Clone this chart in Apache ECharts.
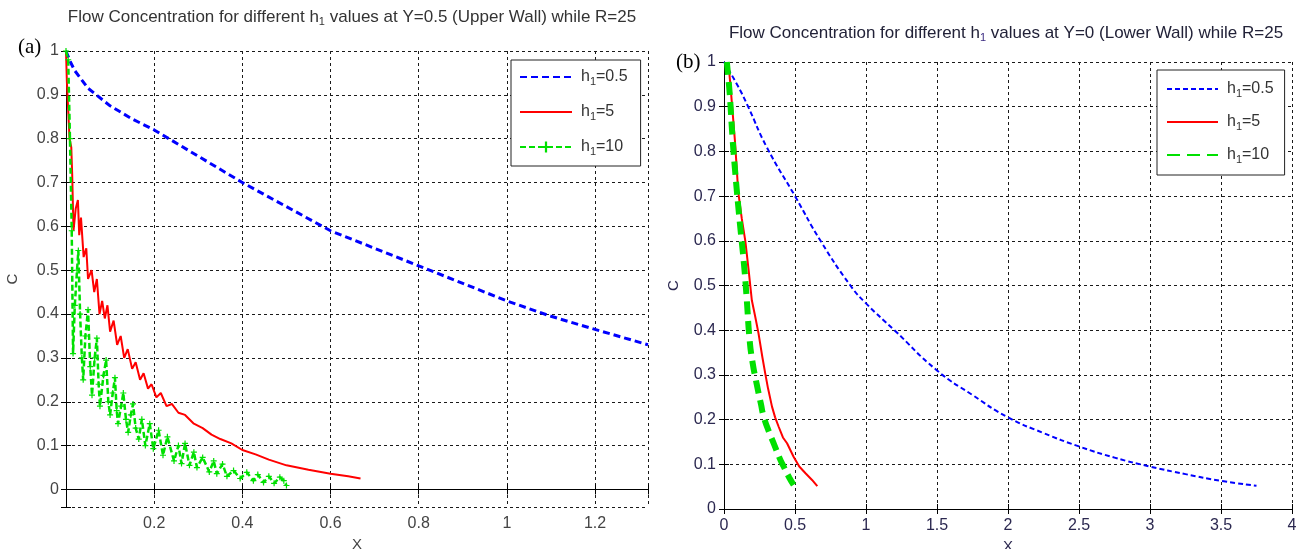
<!DOCTYPE html>
<html>
<head>
<meta charset="utf-8">
<script src="https://cdn.jsdelivr.net/npm/echarts@6/dist/echarts.min.js"></script>
<style>
  html, body { margin: 0; padding: 0; background: #fff; }
  #main { width: 1298px; height: 549px; }
</style>
</head>
<body>
<div id="main"></div>
<script>
// (a) Y=0.5 upper wall
const aX05 = [0, 0.01, 0.02, 0.05, 0.1, 0.15, 0.2, 0.3, 0.4, 0.5, 0.6, 0.7, 0.8, 0.9, 1.0, 1.1, 1.2, 1.32];
const aC05 = [1.0, 0.975, 0.955, 0.915, 0.875, 0.845, 0.82, 0.76, 0.70, 0.645, 0.59, 0.55, 0.51, 0.47, 0.43, 0.395, 0.365, 0.33];

const aX5 = [0, 0.002, 0.006, 0.008, 0.012, 0.014, 0.017, 0.022, 0.027, 0.03, 0.034, 0.04, 0.046, 0.05, 0.058, 0.064, 0.07, 0.076, 0.082, 0.088, 0.094, 0.1, 0.108, 0.116, 0.124, 0.132, 0.14, 0.15, 0.158, 0.168, 0.176, 0.186, 0.194, 0.205, 0.215, 0.228, 0.24, 0.255, 0.27, 0.29, 0.31, 0.33, 0.35, 0.375, 0.4, 0.43, 0.46, 0.5, 0.55, 0.6, 0.64, 0.668];
const aC5 = [1.0, 0.93, 0.93, 0.80, 0.78, 0.72, 0.59, 0.64, 0.66, 0.58, 0.62, 0.53, 0.55, 0.48, 0.50, 0.45, 0.48, 0.40, 0.43, 0.39, 0.42, 0.36, 0.385, 0.33, 0.35, 0.30, 0.32, 0.275, 0.29, 0.25, 0.265, 0.23, 0.24, 0.21, 0.22, 0.19, 0.195, 0.175, 0.17, 0.15, 0.14, 0.125, 0.115, 0.105, 0.09, 0.08, 0.068, 0.055, 0.045, 0.036, 0.03, 0.025];

const aX10 = [0, 0.005, 0.009, 0.013, 0.016, 0.02, 0.025, 0.028, 0.032, 0.036, 0.039, 0.044, 0.05, 0.055, 0.059, 0.065, 0.07, 0.074, 0.077, 0.085, 0.091, 0.096, 0.1, 0.106, 0.111, 0.115, 0.118, 0.125, 0.13, 0.136, 0.141, 0.147, 0.152, 0.158, 0.165, 0.172, 0.18, 0.19, 0.198, 0.21, 0.22, 0.23, 0.245, 0.255, 0.262, 0.27, 0.28, 0.29, 0.297, 0.31, 0.325, 0.335, 0.342, 0.355, 0.365, 0.38, 0.395, 0.41, 0.425, 0.435, 0.448, 0.46, 0.472, 0.485, 0.494, 0.5];
const aC10 = [1.0, 0.98, 0.80, 0.59, 0.31, 0.42, 0.50, 0.545, 0.40, 0.30, 0.25, 0.35, 0.41, 0.28, 0.215, 0.30, 0.345, 0.24, 0.19, 0.26, 0.295, 0.20, 0.17, 0.22, 0.255, 0.18, 0.15, 0.19, 0.22, 0.16, 0.13, 0.17, 0.195, 0.14, 0.115, 0.16, 0.10, 0.15, 0.093, 0.135, 0.078, 0.12, 0.065, 0.10, 0.059, 0.105, 0.055, 0.085, 0.05, 0.073, 0.04, 0.065, 0.036, 0.058, 0.03, 0.043, 0.025, 0.039, 0.02, 0.034, 0.016, 0.03, 0.014, 0.028, 0.02, 0.009];

// (b) Y=0 lower wall
const bX05 = [0, 0.1, 0.17, 0.3, 0.5, 0.68, 0.89, 1.0, 1.2, 1.5, 1.75, 2.0, 2.25, 2.5, 2.75, 3.0, 3.25, 3.5, 3.75];
const bC05 = [1.0, 0.945, 0.90, 0.81, 0.70, 0.60, 0.50, 0.46, 0.40, 0.31, 0.255, 0.205, 0.17, 0.14, 0.115, 0.095, 0.078, 0.063, 0.052];

const bX5 = [0.03, 0.045, 0.06, 0.078, 0.09, 0.1, 0.125, 0.15, 0.175, 0.196, 0.22, 0.243, 0.27, 0.29, 0.31, 0.338, 0.36, 0.385, 0.415, 0.444, 0.49, 0.53, 0.574, 0.62, 0.657];
const bC5 = [1.0, 0.95, 0.89, 0.82, 0.76, 0.71, 0.65, 0.60, 0.53, 0.467, 0.43, 0.393, 0.34, 0.304, 0.27, 0.229, 0.205, 0.184, 0.16, 0.147, 0.117, 0.095, 0.08, 0.065, 0.051];

const bX10 = [0.02, 0.04, 0.06, 0.08, 0.11, 0.14, 0.16, 0.18, 0.2, 0.23, 0.26, 0.28, 0.32, 0.35, 0.39, 0.42, 0.46, 0.49];
const bC10 = [1.0, 0.93, 0.83, 0.75, 0.645, 0.55, 0.47, 0.38, 0.33, 0.28, 0.235, 0.206, 0.17, 0.147, 0.115, 0.095, 0.07, 0.054];

const zip = (xs, ys) => xs.map((x, i) => [x, ys[i]]);

const chart = echarts.init(document.getElementById('main'));

const sansFont = 'Liberation Sans, Arial, sans-serif';
const gridLine = { show: true, lineStyle: { color: '#1a1a1a', type: [3, 3], width: 1 } };
const blackLine = { show: true, lineStyle: { color: '#000', width: 1 } };
const tickIn = { show: true, inside: true, length: 5, lineStyle: { color: '#000' } };
const fmt = (v) => String(+v.toFixed(2));

const legendRich = {
  h: { fontSize: 16, fontFamily: sansFont, color: '#333' },
  s: { fontSize: 11, fontFamily: sansFont, color: '#333', verticalAlign: 'bottom', padding: [9, 0, 0, 0] },
  p: { width: 4 }
};
const legendFmt = (name) => '{p|}{h|h}{s|1}{h|=' + name.split('=')[1] + '}';
// hide the marker ECharts adds to line-series legend icons
const noMark = { color: 'rgba(0,0,0,0)', borderWidth: 0 };

const option = {
  animation: false,
  backgroundColor: '#fff',
  grid: [
    { left: 66, top: 51, width: 582, height: 456, show: false, outerBoundsMode: 'none', containLabel: false },
    { left: 724, top: 62, width: 568, height: 447, show: false, outerBoundsMode: 'none', containLabel: false }
  ],
  xAxis: [
    {
      gridIndex: 0, type: 'value', min: 0, max: 1.32, interval: 0.2, position: 'bottom',
      axisLine: blackLine, axisTick: tickIn, splitLine: gridLine,
      axisLabel: { color: '#444', fontSize: 16, fontFamily: sansFont, margin: 9,
        formatter: (v) => (v <= 0 || v > 1.3) ? '' : fmt(v) },
      name: 'X', nameLocation: 'middle', nameGap: 30,
      nameTextStyle: { color: '#444', fontSize: 15, fontFamily: sansFont }
    },
    {
      gridIndex: 0, type: 'value', min: 0, max: 1.32, interval: 0.2, position: 'top',
      axisLine: blackLine, axisTick: tickIn, splitLine: { show: false }, axisLabel: { show: false }
    },
    {
      gridIndex: 1, type: 'value', min: 0, max: 4, interval: 0.5, position: 'bottom',
      axisLine: blackLine, axisTick: tickIn, splitLine: gridLine,
      axisLabel: { color: '#2b2850', fontSize: 16, fontFamily: sansFont, margin: 9, formatter: fmt },
      name: 'X', nameLocation: 'middle', nameGap: 27,
      nameTextStyle: { color: '#2b2850', fontSize: 15, fontFamily: sansFont }
    },
    {
      gridIndex: 1, type: 'value', min: 0, max: 4, interval: 0.5, position: 'top',
      axisLine: blackLine, axisTick: tickIn, splitLine: { show: false }, axisLabel: { show: false }
    }
  ],
  yAxis: [
    {
      gridIndex: 0, type: 'value', min: -0.04, max: 1, splitNumber: 10, position: 'left',
      axisLine: blackLine, axisTick: tickIn, splitLine: gridLine,
      axisLabel: { color: '#444', fontSize: 16, fontFamily: sansFont, margin: 7,
        formatter: (v) => v < 0 ? '' : fmt(v) },
      name: 'C', nameLocation: 'middle', nameGap: 46,
      nameTextStyle: { color: '#444', fontSize: 15, fontFamily: sansFont }
    },
    {
      gridIndex: 0, type: 'value', min: -0.04, max: 1, splitNumber: 10, position: 'right',
      axisLine: blackLine, axisTick: tickIn, splitLine: { show: false }, axisLabel: { show: false }
    },
    {
      gridIndex: 1, type: 'value', min: 0, max: 1, interval: 0.1, position: 'left',
      axisLine: blackLine, axisTick: tickIn, splitLine: gridLine,
      axisLabel: { color: '#2b2850', fontSize: 16, fontFamily: sansFont, margin: 8, formatter: fmt },
      name: 'C', nameLocation: 'middle', nameGap: 43,
      nameTextStyle: { color: '#2b2850', fontSize: 15, fontFamily: sansFont }
    },
    {
      gridIndex: 1, type: 'value', min: 0, max: 1, interval: 0.1, position: 'right',
      axisLine: blackLine, axisTick: tickIn, splitLine: { show: false }, axisLabel: { show: false }
    }
  ],
  legend: [
    {
      data: [
        { name: 'a:h1=0.5', itemStyle: noMark },
        { name: 'a:h1=5', itemStyle: noMark },
        { name: 'a:h1=10' }
      ],
      orient: 'vertical',
      left: 511, top: 60, padding: [9, 13, 9, 8], itemGap: 17, itemWidth: 52, itemHeight: 14,
      backgroundColor: '#fff', borderColor: '#222', borderWidth: 1, borderRadius: 0,
      formatter: legendFmt, textStyle: { rich: legendRich }, selectedMode: false
    },
    {
      data: [
        { name: 'b:h1=0.5', itemStyle: noMark },
        { name: 'b:h1=5', itemStyle: noMark },
        { name: 'b:h1=10', itemStyle: noMark }
      ],
      orient: 'vertical',
      left: 1157, top: 70, padding: [11, 11, 10, 9], itemGap: 15, itemWidth: 51, itemHeight: 14,
      backgroundColor: '#fff', borderColor: '#222', borderWidth: 1, borderRadius: 0,
      formatter: legendFmt, textStyle: { rich: legendRich }, selectedMode: false
    }
  ],
  graphic: [
    {
      type: 'text', x: 352, y: 17,
      style: {
        text: '{t|Flow Concentration for different h}{u|1}{t| values at Y=0.5 (Upper Wall) while R=25}',
        align: 'center', verticalAlign: 'middle',
        rich: {
          t: { fontSize: 17, fontFamily: sansFont, fill: '#333' },
          u: { fontSize: 11, fontFamily: sansFont, fill: '#333', verticalAlign: 'bottom', padding: [9, 0, 0, 0] }
        }
      }
    },
    {
      type: 'text', x: 1006, y: 33,
      style: {
        text: '{t|Flow Concentration for different h}{u|1}{t| values at Y=0 (Lower Wall) while R=25}',
        align: 'center', verticalAlign: 'middle',
        rich: {
          t: { fontSize: 17, fontFamily: sansFont, fill: '#222238' },
          u: { fontSize: 11, fontFamily: sansFont, fill: '#3a2a80', verticalAlign: 'bottom', padding: [9, 0, 0, 0] }
        }
      }
    },
    {
      type: 'text', x: 18, y: 47,
      style: { text: '(a)', fontSize: 21, fontFamily: 'Liberation Serif, Times New Roman, serif', fill: '#000', verticalAlign: 'middle' }
    },
    {
      type: 'text', x: 676, y: 62,
      style: { text: '(b)', fontSize: 21, fontFamily: 'Liberation Serif, Times New Roman, serif', fill: '#000', verticalAlign: 'middle' }
    }
  ],
  series: [
    {
      name: 'a:h1=0.5', type: 'line', xAxisIndex: 0, yAxisIndex: 0, data: zip(aX05, aC05),
      symbol: 'none', smooth: false, lineStyle: { color: '#0000ff', width: 3, type: [7, 4] }, itemStyle: { color: '#0000ff' }
    },
    {
      name: 'a:h1=5', type: 'line', xAxisIndex: 0, yAxisIndex: 0, data: zip(aX5, aC5),
      symbol: 'none', lineStyle: { color: '#ff0000', width: 2 }, itemStyle: { color: '#ff0000' }
    },
    {
      name: 'a:h1=10', type: 'line', xAxisIndex: 0, yAxisIndex: 0, data: zip(aX10, aC10),
      symbol: 'path://M2,0H3V2H5V3H3V5H2V3H0V2H2Z', symbolSize: 6, showSymbol: true,
      lineStyle: { color: '#00e000', width: 2.5, type: [6, 3] }, itemStyle: { color: '#00e000' }
    },
    {
      name: 'b:h1=0.5', type: 'line', xAxisIndex: 2, yAxisIndex: 2, data: zip(bX05, bC05),
      symbol: 'none', smooth: true, lineStyle: { color: '#0000ff', width: 2, type: [5, 3] }, itemStyle: { color: '#0000ff' }
    },
    {
      name: 'b:h1=5', type: 'line', xAxisIndex: 2, yAxisIndex: 2, data: zip(bX5, bC5),
      symbol: 'none', lineStyle: { color: '#ff0000', width: 2 }, itemStyle: { color: '#ff0000' }
    },
    {
      name: 'b:h1=10', type: 'line', xAxisIndex: 2, yAxisIndex: 2, data: zip(bX10, bC10),
      symbol: 'none', smooth: true, lineStyle: { color: '#00e000', width: 6, type: [13, 7] }, itemStyle: { color: '#00e000' }
    }
  ]
};

chart.setOption(option);
</script>
</body>
</html>
